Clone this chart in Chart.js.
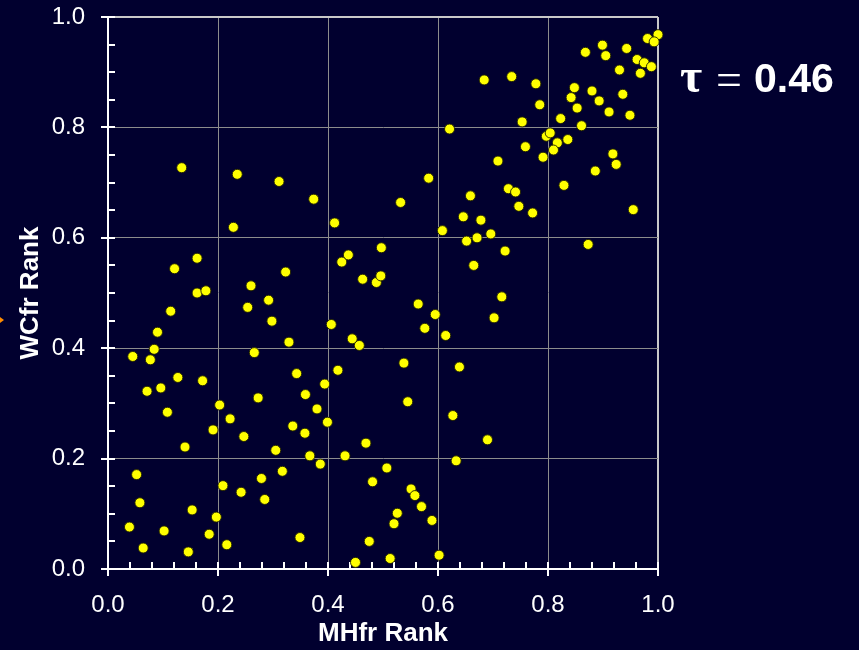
<!DOCTYPE html>
<html>
<head>
<meta charset="utf-8">
<script src="https://cdn.jsdelivr.net/npm/chart.js@4/dist/chart.umd.min.js"></script>
<style>
  html, body { margin: 0; padding: 0; background: #01002f; }
  #c { display: block; }
</style>
</head>
<body>
<canvas id="c" width="859" height="650"></canvas>
<script>
// Rank of each sample by MHfr (x) and by WCfr (y)
const mhfrRank = [
  0.134, 0.235, 0.311, 0.374, 0.228, 0.412, 0.162, 0.121, 0.437, 0.425,
  0.323, 0.463, 0.488, 0.497, 0.260, 0.496,
  0.684, 0.734, 0.778, 0.868, 0.899, 0.905, 0.943, 0.962, 0.975, 0.988,
  0.968, 0.930, 0.981, 1.000, 0.993, 0.848, 0.880, 0.842, 0.893, 0.936,
  0.853, 0.911, 0.949, 0.785, 0.823, 0.861, 0.753, 0.621, 0.797, 0.804,
  0.836, 0.817, 0.810, 0.791, 0.759, 0.918, 0.924, 0.709, 0.886, 0.829,
  0.583, 0.728, 0.741, 0.659, 0.532, 0.747, 0.772, 0.646, 0.678, 0.955,
  0.608, 0.696, 0.652, 0.671, 0.722, 0.873, 0.665,
  0.162, 0.178, 0.254, 0.292, 0.114, 0.298, 0.090, 0.406, 0.444, 0.457,
  0.329, 0.084, 0.045, 0.077, 0.266, 0.127, 0.172, 0.343, 0.418, 0.071,
  0.096, 0.359, 0.394, 0.273, 0.380, 0.108, 0.203, 0.222, 0.399, 0.191,
  0.336, 0.358, 0.247, 0.140, 0.469, 0.305, 0.367, 0.431, 0.386, 0.052,
  0.317, 0.279, 0.481, 0.209, 0.242, 0.285, 0.058, 0.153, 0.197, 0.039,
  0.102, 0.184, 0.349, 0.475, 0.064, 0.216, 0.146, 0.450,
  0.564, 0.716, 0.595, 0.702, 0.576, 0.614, 0.538, 0.639, 0.545, 0.627,
  0.690, 0.633, 0.507, 0.551, 0.558, 0.570, 0.526, 0.520, 0.589, 0.513,
  0.602
];
const wcfrRank = [
  0.727, 0.715, 0.702, 0.670, 0.619, 0.627, 0.563, 0.544, 0.569, 0.556,
  0.538, 0.525, 0.519, 0.582, 0.513, 0.531,
  0.886, 0.892, 0.879, 0.936, 0.949, 0.930, 0.943, 0.923, 0.917, 0.910,
  0.898, 0.904, 0.961, 0.968, 0.955, 0.872, 0.866, 0.854, 0.848, 0.860,
  0.835, 0.828, 0.822, 0.841, 0.816, 0.803, 0.810, 0.797, 0.784, 0.790,
  0.778, 0.772, 0.759, 0.746, 0.765, 0.752, 0.733, 0.739, 0.721, 0.695,
  0.708, 0.689, 0.683, 0.676, 0.664, 0.657, 0.645, 0.638, 0.632, 0.651,
  0.613, 0.607, 0.594, 0.600, 0.576, 0.588, 0.550,
  0.500, 0.504, 0.474, 0.487, 0.467, 0.449, 0.429, 0.443, 0.417, 0.405,
  0.411, 0.398, 0.385, 0.379, 0.392, 0.347, 0.341, 0.354, 0.360, 0.322,
  0.328, 0.316, 0.335, 0.310, 0.290, 0.284, 0.297, 0.272, 0.266, 0.252,
  0.259, 0.246, 0.240, 0.221, 0.228, 0.215, 0.205, 0.205, 0.190, 0.171,
  0.177, 0.164, 0.158, 0.151, 0.139, 0.126, 0.120, 0.107, 0.094, 0.076,
  0.069, 0.063, 0.057, 0.050, 0.038, 0.044, 0.031, 0.012,
  0.480, 0.493, 0.461, 0.455, 0.436, 0.423, 0.373, 0.366, 0.303, 0.278,
  0.234, 0.196, 0.183, 0.145, 0.133, 0.113, 0.101, 0.082, 0.088, 0.019,
  0.025
];

// Labelled ticks and the small unlabelled ticks between them
const majorTicks  = [0.0, 0.2, 0.4, 0.6, 0.8, 1.0];
const xMinorTicks = [0.04, 0.08, 0.12, 0.16, 0.24, 0.28, 0.32, 0.36,
                     0.44, 0.48, 0.52, 0.56, 0.64, 0.68, 0.72, 0.76,
                     0.84, 0.88, 0.92, 0.96];
const yMinorTicks = [0.05, 0.10, 0.15, 0.25, 0.30, 0.35, 0.45, 0.50, 0.55,
                     0.65, 0.70, 0.75, 0.85, 0.90, 0.95];

const xAxisTitle = 'MHfr Rank';
const yAxisTitle = 'WCfr Rank';
const tauValue = '0.46';

const points = mhfrRank.map((x, i) => ({ x: x, y: wcfrRank[i] }));

const SANS = '"Liberation Sans", Arial, Helvetica, sans-serif';
const SERIF = '"Liberation Serif", "Times New Roman", serif';

const isEdge = v => Math.abs(v - 1) < 1e-6;

// Tick marks on both axes: major ones cross the axis, minor ones point inward
const tickMarks = {
  id: 'tickMarks',
  beforeDatasetsDraw(chart) {
    const { ctx, chartArea, scales } = chart;
    const xs = scales.x, ys = scales.y;
    ctx.save();
    ctx.strokeStyle = '#ffffff';
    ctx.lineWidth = 2;
    ctx.beginPath();
    majorTicks.forEach(v => {
      const py = Math.round(ys.getPixelForValue(v));
      ctx.moveTo(chartArea.left - 7, py);
      ctx.lineTo(chartArea.left + 7, py);
      const px = Math.round(xs.getPixelForValue(v));
      ctx.moveTo(px, chartArea.bottom - 7);
      ctx.lineTo(px, chartArea.bottom + 7);
    });
    yMinorTicks.forEach(v => {
      const py = Math.round(ys.getPixelForValue(v));
      ctx.moveTo(chartArea.left, py);
      ctx.lineTo(chartArea.left + 7, py);
    });
    xMinorTicks.forEach(v => {
      const px = Math.round(xs.getPixelForValue(v));
      ctx.moveTo(px, chartArea.bottom);
      ctx.lineTo(px, chartArea.bottom - 7);
    });
    ctx.stroke();
    ctx.restore();
  }
};

// Kendall tau annotation beside the plot, and the small orange marker at the left edge
const annotations = {
  id: 'annotations',
  afterDraw(chart) {
    const { ctx } = chart;
    ctx.save();
    ctx.fillStyle = '#ffffff';
    ctx.textBaseline = 'alphabetic';
    ctx.textAlign = 'left';
    ctx.font = 'bold 48px ' + SERIF;
    ctx.fillText('\u03C4', 680, 92);
    ctx.font = '46px ' + SERIF;
    ctx.fillText('=', 716, 95);
    ctx.font = 'bold 41px ' + SANS;
    ctx.fillText(tauValue, 754, 92);

    ctx.fillStyle = '#ff8c00';
    ctx.beginPath();
    ctx.moveTo(0, 317);
    ctx.lineTo(4, 320);
    ctx.lineTo(0, 323);
    ctx.closePath();
    ctx.fill();
    ctx.restore();
  }
};

new Chart(document.getElementById('c'), {
  type: 'scatter',
  data: {
    datasets: [{
      data: points,
      backgroundColor: '#ffff00',
      borderColor: 'rgba(30,30,0,0.9)',
      borderWidth: 1,
      pointRadius: 5,
      pointHoverRadius: 5,
      clip: false
    }]
  },
  options: {
    responsive: false,
    devicePixelRatio: 1,
    animation: false,
    events: [],
    layout: { padding: { left: 0, top: 17, right: 201, bottom: 0 } },
    plugins: {
      legend: { display: false },
      tooltip: { enabled: false }
    },
    scales: {
      x: {
        type: 'linear',
        min: 0,
        max: 1,
        afterFit(scale) {
          scale.height = 81;
          scale.paddingLeft = 0;
          scale.paddingRight = 0;
        },
        afterBuildTicks(scale) { scale.ticks = majorTicks.map(v => ({ value: v })); },
        ticks: {
          color: '#ffffff',
          font: { family: SANS, size: 24 },
          padding: 22,
          maxRotation: 0,
          callback: v => v.toFixed(1)
        },
        grid: {
          drawTicks: false,
          color: ctx => isEdge(ctx.tick.value) ? '#c8c8c8' : '#8c8c8c',
          lineWidth: ctx => isEdge(ctx.tick.value) ? 2 : 1
        },
        border: { display: true, color: '#ffffff', width: 2 },
        title: {
          display: true,
          text: xAxisTitle,
          color: '#ffffff',
          font: { family: SANS, size: 26, weight: 'bold' },
          padding: { top: 0, bottom: 1 }
        }
      },
      y: {
        type: 'linear',
        min: 0,
        max: 1,
        afterFit(scale) {
          scale.width = 108;
          scale.paddingTop = 0;
          scale.paddingBottom = 0;
        },
        afterBuildTicks(scale) { scale.ticks = majorTicks.map(v => ({ value: v })); },
        ticks: {
          color: '#ffffff',
          font: { family: SANS, size: 24 },
          padding: 23,
          callback: v => v.toFixed(1)
        },
        grid: {
          drawTicks: false,
          color: ctx => isEdge(ctx.tick.value) ? '#c8c8c8' : '#8c8c8c',
          lineWidth: ctx => isEdge(ctx.tick.value) ? 2 : 1
        },
        border: { display: true, color: '#ffffff', width: 2 },
        title: {
          display: true,
          text: yAxisTitle,
          color: '#ffffff',
          font: { family: SANS, size: 26, weight: 'bold' },
          padding: { top: 15, bottom: 0 }
        }
      }
    }
  },
  plugins: [tickMarks, annotations]
});
</script>
</body>
</html>
